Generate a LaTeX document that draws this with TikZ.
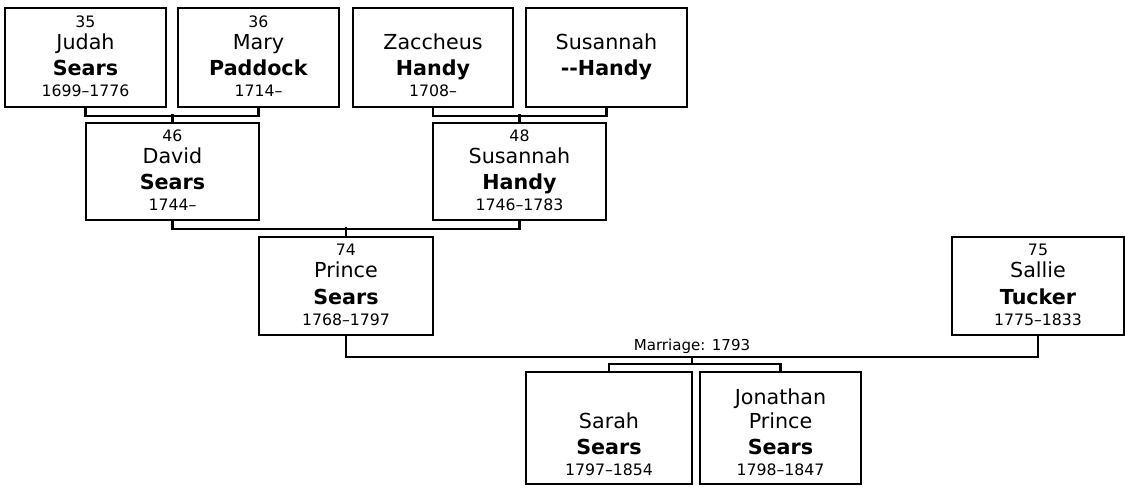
\documentclass[tikz,border=0pt]{standalone}
\usepackage{fontspec}
\setmainfont{DejaVu Sans}
\usetikzlibrary{positioning,calc}
\newcommand{\yr}[1]{{\fontsize{11.8}{13}\selectfont #1}}
\newcommand{\lastname}[1]{\textbf{#1}}
% number / first name / last name / years
\newcommand{\who}[4]{\yr{#1}\\[-2.25pt]#2\\[0.75pt]\lastname{#3}\\[-3.25pt]\yr{#4}\rule[-2.2pt]{0pt}{2.2pt}}
% first line / first name / last name / years (children)
\newcommand{\kid}[4]{\rule{0pt}{18.6pt}#1\\[-1.5pt]#2\\[0.75pt]\lastname{#3}\\[-3pt]\yr{#4}}
\tikzset{
  person/.style={draw, rectangle, line width=1.6pt, inner sep=0pt, align=center, minimum height=74.25pt, font=\fontsize{15.5}{19}\selectfont},
  kids/.style={person, minimum height=84pt},
  link/.style={line width=1.6pt},
  wedlabel/.style={above, inner sep=1.5pt, font=\fontsize{11.3}{13}\selectfont}
}
\begin{document}
\begin{tikzpicture}[x=0.75pt,y=-0.75pt]
  \useasboundingbox (0,0) rectangle (1125,489);
  \node[person,minimum width=120.75pt] (judah) at (85.5,57.5) {\who{35}{Judah}{Sears}{1699--1776}};
  \node[person,minimum width=120.75pt] (mary) at (258.5,57.5) {\who{36}{Mary}{Paddock}{1714--}};
  \node[person,minimum width=120pt] (zacch) at (433,57.5) {\who{\phantom{0}}{Zaccheus}{Handy}{1708--}};
  \node[person,minimum width=120.75pt] (susmom) at (606.5,57.5) {\who{\phantom{0}}{Susannah}{-{}-Handy}{\phantom{0}}};
  \node[person,minimum width=129.75pt,minimum height=72.75pt] (david) at (172.5,171.5) {\who{46}{David}{Sears}{1744--}};
  \node[person,minimum width=129.75pt,minimum height=72.75pt] (susannah) at (519.5,171.5) {\who{48}{Susannah}{Handy}{1746--1783}};
  \node[person,minimum width=130.5pt,minimum height=73.5pt] (prince) at (346,286) {\who{74}{Prince}{Sears}{1768--1797}};
  \node[person,minimum width=129pt,minimum height=73.5pt] (sallie) at (1038,286) {\who{75}{Sallie}{Tucker}{1775--1833}};
  \node[kids,minimum width=124.5pt] (sarah) at (609,428) {\kid{\phantom{S}}{Sarah}{Sears}{1797--1854}};
  \node[kids,minimum width=120.75pt] (jonathan) at (780.5,428) {\kid{Jonathan}{Prince}{Sears}{1798--1847}};
  % parents to children
  \draw[link] (judah.south) -- ++(0,8) -| (mary.south);
  \draw[link] (david.north) -- ++(0,-8);
  \draw[link] (zacch.south) -- ++(0,8) -| (susmom.south);
  \draw[link] (susannah.north) -- ++(0,-8);
  \draw[link] (david.south) -- ++(0,8) -| (susannah.south);
  \draw[link] (prince.north) -- ++(0,-9);
  % marriage
  \draw[link] (prince.south) -- ++(0,21) -| (sallie.south);
  \coordinate (wed) at (692,356);
  \node[wedlabel] (marr) at (wed) {Marriage: 1793};
  \draw[link] (sarah.north) -- ++(0,-7) -| (jonathan.north);
  \draw[link] (wed) -- ++(0,9);
\end{tikzpicture}
\end{document}
